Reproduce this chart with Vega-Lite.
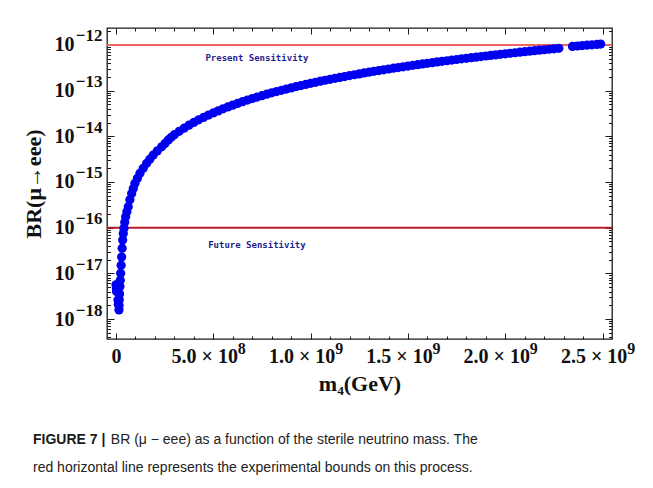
{
  "$schema": "https://vega.github.io/schema/vega-lite/v6.json",
  "autosize": {"type": "none"},
  "padding": {"left": 107, "top": 28, "right": 41, "bottom": 149},
  "width": 505,
  "height": 311,
  "background": "white",
  "title": {
    "text": "FIGURE 7 |",
    "subtitle": ["\u200b\u00a0\u00a0\u00a0\u00a0\u00a0\u00a0\u00a0\u00a0\u00a0\u00a0\u00a0\u00a0\u00a0\u00a0\u00a0\u00a0\u00a0\u00a0\u00a0\u00a0BR (μ − eee) as a function of the sterile neutrino mass. The", "red horizontal line represents the experimental bounds on this process."],
    "orient": "bottom",
    "anchor": "start",
    "frame": "group",
    "dx": -74,
    "offset": 39,
    "font": "Liberation Sans",
    "fontSize": 14,
    "fontWeight": "bold",
    "color": "#1a1a1a",
    "subtitleFont": "Liberation Sans",
    "subtitleFontSize": 14,
    "subtitleFontWeight": "normal",
    "subtitleColor": "#222222",
    "subtitlePadding": -14,
    "subtitleLineHeight": 28
  },
  "resolve": {"axis": {"x": "independent", "y": "independent"}},
  "layer": [
    {
      "data": {"values": [{"bound": 1e-12}]},
      "mark": {"type": "rule", "color": "#f26464", "strokeWidth": 2},
      "encoding": {"y": {"field": "bound", "type": "quantitative", "scale": {"type": "log", "domain": [3.65e-19, 2.355e-12], "nice": false},
        "axis": {"orient": "left", "values": [1e-18,1e-17,1e-16,1e-15,1e-14,1e-13,1e-12], "ticks": false, "domain": false, "grid": false, "title": null,
          "labelExpr": "'−1' + ['0','1','2','3','4','5','6','7','8','9'][-round(log(datum.value)/LN10) - 10]",
          "labelFont": "Liberation Serif", "labelFontWeight": "bold", "labelFontSize": 17, "labelColor": "#111111",
          "labelPadding": 5, "labelOffset": -9, "labelOverlap": false, "labelFlush": false, "labelBound": false}}}
    },
    {
      "data": {"values": [{"bound": 1e-16}]},
      "mark": {"type": "rule", "color": "#b81c2c", "strokeWidth": 2},
      "encoding": {"y": {"field": "bound", "type": "quantitative", "axis": null}}
    },
    {
      "data": {"values": [
        {"m":0,"BR":5.6e-18},{"m":2e6,"BR":4.8e-18},{"m":3e6,"BR":4.0e-18},{"m":1.0e7,"BR":2.6e-18},{"m":1.2e7,"BR":2.1e-18},
        {"m":1.54e7,"BR":1.585e-18},{"m":1.6e7,"BR":2.0e-18},{"m":1.7e7,"BR":2.63e-18},{"m":1.87e7,"BR":3.55e-18},{"m":2.05e7,"BR":5.13e-18},
        {"m":2.22e7,"BR":7.08e-18},{"m":2.41e7,"BR":1.0e-17},{"m":2.66e7,"BR":1.51e-17},{"m":2.93e7,"BR":2.29e-17},{"m":3.18e7,"BR":3.55e-17},
        {"m":3.44e7,"BR":5.37e-17},{"m":3.77e7,"BR":7.41e-17},{"m":4.11e7,"BR":9.77e-17},{"m":4.52e7,"BR":1.32e-16},{"m":4.98e7,"BR":1.74e-16},
        {"m":5.6e7,"BR":2.24e-16},{"m":6.32e7,"BR":2.88e-16},{"m":7.15e7,"BR":4.07e-16},{"m":8.07e7,"BR":5.62e-16},{"m":8.9e7,"BR":7.24e-16},
        {"m":9.76e7,"BR":9.33e-16},{"m":1.1e8,"BR":1.2e-15},{"m":1.233e8,"BR":1.55e-15},{"m":1.4e8,"BR":2.0e-15},{"m":1.577e8,"BR":2.57e-15},
        {"m":1.74e8,"BR":3.16e-15},{"m":1.916e8,"BR":3.89e-15},{"m":2.12e8,"BR":4.79e-15},{"m":2.348e8,"BR":5.89e-15},{"m":2.52e8,"BR":7.0e-15},
        {"m":2.687e8,"BR":8.32e-15},{"m":2.84e8,"BR":9.55e-15},
        {"m":3.0e8,"BR":1.086e-14},{"m":3.25e8,"BR":1.29e-14},{"m":3.5e8,"BR":1.51e-14},{"m":3.75e8,"BR":1.75e-14},{"m":4.0e8,"BR":2.01e-14},
        {"m":4.25e8,"BR":2.30e-14},{"m":4.5e8,"BR":2.59e-14},{"m":4.75e8,"BR":2.92e-14},{"m":5.0e8,"BR":3.26e-14},{"m":5.25e8,"BR":3.61e-14},
        {"m":5.5e8,"BR":4.00e-14},{"m":5.75e8,"BR":4.40e-14},{"m":6.0e8,"BR":4.82e-14},{"m":6.25e8,"BR":5.26e-14},{"m":6.5e8,"BR":5.73e-14},
        {"m":6.75e8,"BR":6.21e-14},{"m":7.0e8,"BR":6.71e-14},{"m":7.25e8,"BR":7.24e-14},{"m":7.5e8,"BR":7.78e-14},{"m":7.75e8,"BR":8.36e-14},
        {"m":8.0e8,"BR":8.95e-14},{"m":8.25e8,"BR":9.55e-14},{"m":8.5e8,"BR":1.019e-13},{"m":8.75e8,"BR":1.084e-13},{"m":9.0e8,"BR":1.151e-13},
        {"m":9.25e8,"BR":1.222e-13},{"m":9.5e8,"BR":1.294e-13},{"m":9.75e8,"BR":1.368e-13},{"m":1.0e9,"BR":1.445e-13},{"m":1.025e9,"BR":1.52e-13},
        {"m":1.05e9,"BR":1.61e-13},{"m":1.075e9,"BR":1.69e-13},{"m":1.1e9,"BR":1.77e-13},{"m":1.125e9,"BR":1.86e-13},{"m":1.15e9,"BR":1.95e-13},
        {"m":1.175e9,"BR":2.04e-13},{"m":1.2e9,"BR":2.14e-13},{"m":1.225e9,"BR":2.23e-13},{"m":1.25e9,"BR":2.33e-13},{"m":1.275e9,"BR":2.44e-13},
        {"m":1.3e9,"BR":2.54e-13},{"m":1.325e9,"BR":2.65e-13},{"m":1.35e9,"BR":2.75e-13},{"m":1.375e9,"BR":2.86e-13},{"m":1.4e9,"BR":2.98e-13},
        {"m":1.425e9,"BR":3.10e-13},{"m":1.45e9,"BR":3.21e-13},{"m":1.475e9,"BR":3.33e-13},{"m":1.5e9,"BR":3.46e-13},{"m":1.525e9,"BR":3.58e-13},
        {"m":1.55e9,"BR":3.71e-13},{"m":1.575e9,"BR":3.84e-13},{"m":1.6e9,"BR":3.97e-13},{"m":1.625e9,"BR":4.10e-13},{"m":1.65e9,"BR":4.25e-13},
        {"m":1.675e9,"BR":4.39e-13},{"m":1.7e9,"BR":4.52e-13},{"m":1.725e9,"BR":4.67e-13},{"m":1.75e9,"BR":4.81e-13},{"m":1.775e9,"BR":4.97e-13},
        {"m":1.8e9,"BR":5.12e-13},{"m":1.825e9,"BR":5.27e-13},{"m":1.85e9,"BR":5.42e-13},{"m":1.875e9,"BR":5.58e-13},{"m":1.9e9,"BR":5.74e-13},
        {"m":1.925e9,"BR":5.90e-13},{"m":1.95e9,"BR":6.07e-13},{"m":1.975e9,"BR":6.24e-13},{"m":2.0e9,"BR":6.41e-13},{"m":2.025e9,"BR":6.59e-13},
        {"m":2.05e9,"BR":6.76e-13},{"m":2.075e9,"BR":6.95e-13},{"m":2.1e9,"BR":7.13e-13},{"m":2.125e9,"BR":7.31e-13},{"m":2.15e9,"BR":7.50e-13},
        {"m":2.175e9,"BR":7.69e-13},{"m":2.2e9,"BR":7.87e-13},{"m":2.225e9,"BR":8.07e-13},{"m":2.25e9,"BR":8.26e-13},{"m":2.275e9,"BR":8.47e-13},
        {"m":2.345e9,"BR":9.3e-13},{"m":2.37e9,"BR":9.5e-13},{"m":2.395e9,"BR":9.7e-13},{"m":2.42e9,"BR":9.9e-13},{"m":2.445e9,"BR":1.01e-12},
        {"m":2.47e9,"BR":1.03e-12},{"m":2.49e9,"BR":1.05e-12}
      ]},
      "mark": {"type": "point", "filled": true, "size": 85, "color": "#0000f0", "opacity": 1},
      "encoding": {
        "x": {
          "field": "m", "type": "quantitative",
          "scale": {"domain": [-4.6e7, 2.548e9], "nice": false, "zero": false},
          "axis": {
            "orient": "bottom",
            "values": [0,1e8,2e8,3e8,4e8,5e8,6e8,7e8,8e8,9e8,1e9,1.1e9,1.2e9,1.3e9,1.4e9,1.5e9,1.6e9,1.7e9,1.8e9,1.9e9,2e9,2.1e9,2.2e9,2.3e9,2.4e9,2.5e9],
            "labelExpr": "datum.value == 0 ? '0' : (datum.value % 500000000 != 0 ? '' : (datum.value < 1e9 ? '5.0 × 10' : format(datum.value/1e9, '.1f') + ' × 10'))",
            "domain": false, "grid": false,
            "tickSize": {"condition": {"test": "datum.value % 500000000 == 0", "value": -6}, "value": -3},
            "tickColor": "#1a1a1a", "tickWidth": 1,
            "labelFont": "Liberation Serif", "labelFontWeight": "bold", "labelFontSize": 20, "labelColor": "#111111",
            "labelPadding": 13,
            "labelOffset": {"condition": {"test": "datum.value == 0", "value": 0}, "value": -9},
            "labelOverlap": false, "labelFlush": false, "labelBound": false,
            "title": "m₄(GeV)", "titleFont": "Liberation Serif", "titleFontWeight": "bold", "titleFontSize": 22, "titleColor": "#111111", "titlePadding": 4
          }
        },
        "y": {
          "field": "BR", "type": "quantitative",
          "axis": {
            "orient": "left",
            "values": [4e-19,5e-19,6e-19,7e-19,8e-19,9e-19,1e-18,2e-18,3e-18,4e-18,5e-18,6e-18,7e-18,8e-18,9e-18,1e-17,2e-17,3e-17,4e-17,5e-17,6e-17,7e-17,8e-17,9e-17,1e-16,2e-16,3e-16,4e-16,5e-16,6e-16,7e-16,8e-16,9e-16,1e-15,2e-15,3e-15,4e-15,5e-15,6e-15,7e-15,8e-15,9e-15,1e-14,2e-14,3e-14,4e-14,5e-14,6e-14,7e-14,8e-14,9e-14,1e-13,2e-13,3e-13,4e-13,5e-13,6e-13,7e-13,8e-13,9e-13,1e-12,2e-12],
            "labelExpr": "abs(log(datum.value)/LN10 - round(log(datum.value)/LN10)) > 0.01 ? '' : '10'",
            "domain": false, "grid": false,
            "tickSize": {"condition": {"test": "abs(log(datum.value)/LN10 - round(log(datum.value)/LN10)) < 0.01", "value": -7}, "value": -3.5},
            "tickColor": "#1a1a1a", "tickWidth": 1,
            "labelFont": "Liberation Serif", "labelFontWeight": "bold", "labelFontSize": 20, "labelColor": "#111111",
            "labelPadding": 40, "labelOverlap": false, "labelFlush": false, "labelBound": false,
            "title": "BR(μ→eee)", "titleFont": "Liberation Serif", "titleFontWeight": "bold", "titleFontSize": 22, "titleColor": "#111111", "titlePadding": 9
          }
        }
      }
    },
    {
      "data": {"values": [
        {"m": 7.24e8, "BR": 5.19e-13, "label": "Present Sensitivity"}
      ]},
      "mark": {"type": "text", "font": "DejaVu Sans Mono", "fontWeight": "bold", "fontSize": 9, "color": "#1f1f8f", "align": "center", "baseline": "middle"},
      "encoding": {
        "x": {"field": "m", "type": "quantitative", "axis": {"orient": "top", "labels": false, "title": null, "domain": false, "grid": false,
          "values": [0,1e8,2e8,3e8,4e8,5e8,6e8,7e8,8e8,9e8,1e9,1.1e9,1.2e9,1.3e9,1.4e9,1.5e9,1.6e9,1.7e9,1.8e9,1.9e9,2e9,2.1e9,2.2e9,2.3e9,2.4e9,2.5e9],
          "tickSize": {"condition": {"test": "datum.value % 500000000 == 0", "value": -6}, "value": -3}, "tickColor": "#1a1a1a"}},
        "y": {"field": "BR", "type": "quantitative", "axis": {"orient": "right", "labels": false, "title": null, "domain": false, "grid": false,
          "values": [4e-19,5e-19,6e-19,7e-19,8e-19,9e-19,1e-18,2e-18,3e-18,4e-18,5e-18,6e-18,7e-18,8e-18,9e-18,1e-17,2e-17,3e-17,4e-17,5e-17,6e-17,7e-17,8e-17,9e-17,1e-16,2e-16,3e-16,4e-16,5e-16,6e-16,7e-16,8e-16,9e-16,1e-15,2e-15,3e-15,4e-15,5e-15,6e-15,7e-15,8e-15,9e-15,1e-14,2e-14,3e-14,4e-14,5e-14,6e-14,7e-14,8e-14,9e-14,1e-13,2e-13,3e-13,4e-13,5e-13,6e-13,7e-13,8e-13,9e-13,1e-12,2e-12],
          "tickSize": {"condition": {"test": "abs(log(datum.value)/LN10 - round(log(datum.value)/LN10)) < 0.01", "value": -7}, "value": -3.5}, "tickColor": "#1a1a1a"}},
        "text": {"field": "label", "type": "nominal"}
      }
    },
    {
      "data": {"values": [
        {"m": 7.24e8, "BR": 4.17e-17, "label": "Future Sensitivity"}
      ]},
      "mark": {"type": "text", "font": "DejaVu Sans Mono", "fontWeight": "bold", "fontSize": 9, "color": "#1f1f8f", "align": "center", "baseline": "middle"},
      "encoding": {
        "x": {"field": "m", "type": "quantitative", "axis": {"orient": "bottom", "title": null, "domain": false, "grid": false, "ticks": false,
          "values": [5e8,1e9,1.5e9,2e9,2.5e9],
          "labelExpr": "datum.value < 1e9 ? '8' : '9'",
          "labelAlign": "left", "labelOffset": 24, "labelPadding": 1,
          "labelFont": "Liberation Serif", "labelFontWeight": "bold", "labelFontSize": 16, "labelColor": "#111111",
          "labelOverlap": false, "labelFlush": false, "labelBound": false}},
        "y": {"field": "BR", "type": "quantitative", "axis": null},
        "text": {"field": "label", "type": "nominal"}
      }
    }
  ],
  "config": {
    "view": {"stroke": "#1a1a1a", "strokeWidth": 1.3}
  }
}
